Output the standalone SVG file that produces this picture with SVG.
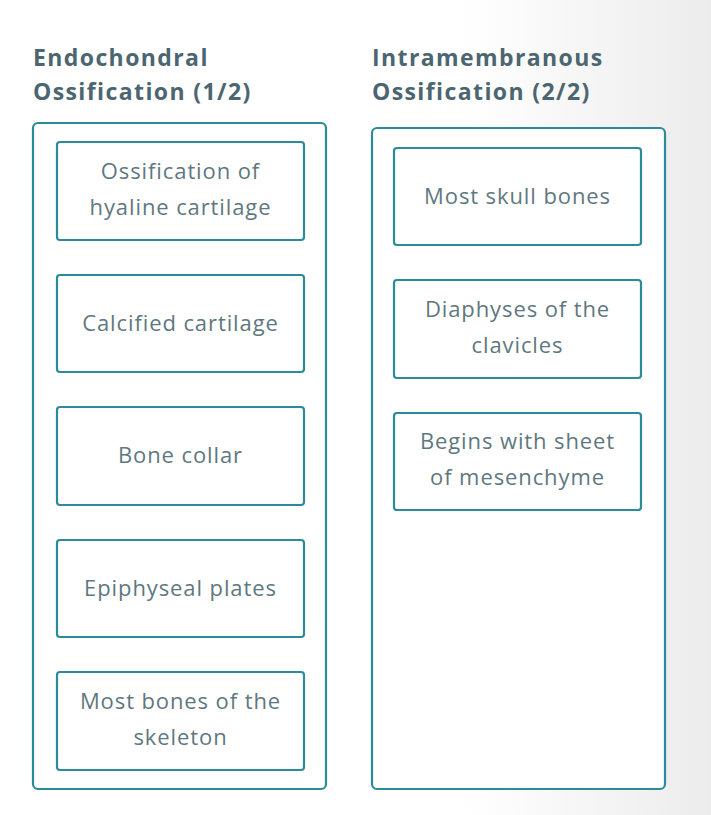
<svg xmlns="http://www.w3.org/2000/svg" width="711" height="815" viewBox="0 0 711 815">
<defs>
<linearGradient id="bg" x1="0" y1="0" x2="1" y2="0">
<stop offset="0.65" stop-color="#ffffff"/><stop offset="1" stop-color="#ececec"/>
</linearGradient>
<style>
.outer{fill:#fff;stroke:#2b8b98;stroke-width:2.2}
.box{fill:#fff;stroke:#2b8b98;stroke-width:2.2}
.h{font-family:"Open Sans","Liberation Sans",sans-serif;font-size:23px;font-weight:bold;fill:#4b6670;letter-spacing:1.4px}
.t{font-family:"Open Sans","Liberation Sans",sans-serif;font-size:22px;fill:#5f7880;text-anchor:middle;letter-spacing:0.9px}
</style>
</defs>
<rect width="711" height="815" fill="url(#bg)"/>
<g id="col1">
<text class="h" x="33" y="66">Endochondral</text>
<text class="h" x="33" y="100">Ossification (1/2)</text>
<rect class="outer" x="33" y="123" width="293" height="666" rx="5"/>
</g>
<g id="col2">
<text class="h" x="372" y="66">Intramembranous</text>
<text class="h" x="372" y="100">Ossification (2/2)</text>
<rect class="outer" x="372" y="128" width="293" height="661" rx="5"/>
</g>
<g id="n1"><rect class="box" x="57" y="142" width="247" height="98" rx="3"/><text class="t" x="180.5" y="179">Ossification of</text><text class="t" x="180.5" y="215">hyaline cartilage</text></g>
<g id="n2"><rect class="box" x="57" y="275" width="247" height="97" rx="3"/><text class="t" x="180.5" y="331">Calcified cartilage</text></g>
<g id="n3"><rect class="box" x="57" y="407" width="247" height="98" rx="3"/><text class="t" x="180.5" y="463">Bone collar</text></g>
<g id="n4"><rect class="box" x="57" y="540" width="247" height="97" rx="3"/><text class="t" x="180.5" y="596">Epiphyseal plates</text></g>
<g id="n5"><rect class="box" x="57" y="672" width="247" height="98" rx="3"/><text class="t" x="180.5" y="709">Most bones of the</text><text class="t" x="180.5" y="745">skeleton</text></g>
<g id="n6"><rect class="box" x="394" y="148" width="247" height="97" rx="3"/><text class="t" x="517.5" y="204">Most skull bones</text></g>
<g id="n7"><rect class="box" x="394" y="280" width="247" height="98" rx="3"/><text class="t" x="517.5" y="317">Diaphyses of the</text><text class="t" x="517.5" y="353">clavicles</text></g>
<g id="n8"><rect class="box" x="394" y="413" width="247" height="97" rx="3"/><text class="t" x="517.5" y="449">Begins with sheet</text><text class="t" x="517.5" y="485">of mesenchyme</text></g>
<g id="connectors"/>
</svg>
